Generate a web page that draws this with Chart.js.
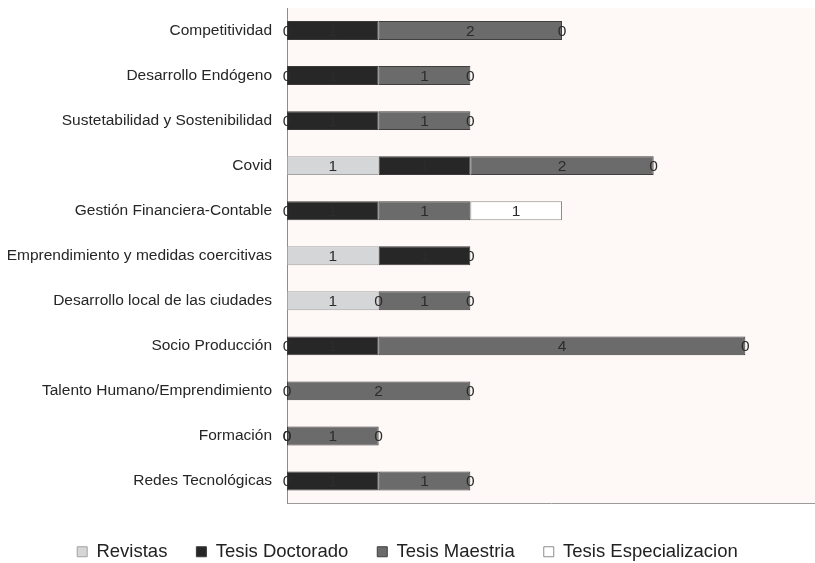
<!DOCTYPE html>
<html>
<head>
<meta charset="utf-8">
<script src="https://cdn.jsdelivr.net/npm/chart.js@4.4.0/dist/chart.umd.min.js"></script>
<style>
  html, body { margin: 0; padding: 0; background: #ffffff; }
  #wrap { width: 815px; height: 563px; }
</style>
</head>
<body>
<div id="wrap"><canvas id="lineasChart"></canvas></div>
<script>
const categorias = [
  "Competitividad",
  "Desarrollo Endógeno",
  "Sustetabilidad y Sostenibilidad",
  "Covid",
  "Gestión Financiera-Contable",
  "Emprendimiento y medidas coercitivas",
  "Desarrollo local de las ciudades",
  "Socio Producción",
  "Talento Humano/Emprendimiento",
  "Formación",
  "Redes Tecnológicas",
];
const revistas = [0, 0, 0, 1, 0, 1, 1, 0, null, 0, 0];
const tesisDoctorado = [1, 1, 1, 1, 1, 1, 0, 1, 0, 0, 1];
const tesisMaestria = [2, 1, 1, 2, 1, 0, 1, 4, 2, 1, 1];
const tesisEspecializacion = [0, 0, 0, 0, 1, null, 0, 0, 0, 0, 0];
const ticksX = [0, 1, 2, 3, 4, 5];

const fuente = "'Liberation Sans', Arial, sans-serif";

// fondo del area de trazado
const fondoPlot = {
  id: "fondoPlot",
  beforeDraw: (chart) => {
    const { ctx, chartArea } = chart;
    ctx.save();
    ctx.fillStyle = "#fef9f6";
    ctx.fillRect(chartArea.left, chartArea.top, chartArea.right - chartArea.left, chartArea.bottom - chartArea.top);
    ctx.restore();
  },
};

// etiquetas de valor en el centro de cada segmento
const etiquetas = {
  id: "etiquetas",
  afterDatasetsDraw: (chart) => {
    const ctx = chart.ctx;
    ctx.save();
    ctx.font = "15.5px " + fuente;
    ctx.fillStyle = "#2c2c2c";
    ctx.textAlign = "center";
    ctx.textBaseline = "middle";
    chart.data.datasets.forEach((ds, i) => {
      const meta = chart.getDatasetMeta(i);
      meta.data.forEach((bar, j) => {
        const v = ds.data[j];
        if (v === null || v === undefined) return;
        ctx.fillText(String(v), (bar.x + bar.base) / 2, bar.y + 1);
      });
    });
    ctx.restore();
  },
};

const serie = (label, data, fill, border) => ({
  label,
  data,
  backgroundColor: fill,
  borderColor: border,
  borderWidth: 1,
  borderSkipped: false,
  categoryPercentage: 1,
  barPercentage: 0.42,
});

new Chart(document.getElementById("lineasChart"), {
  type: "bar",
  data: {
    labels: categorias,
    datasets: [
      serie("Revistas", revistas, "#d5d6d8", "#a3a3a3"),
      serie("Tesis Doctorado", tesisDoctorado, "#282728", "#3a3a3a"),
      serie("Tesis Maestria", tesisMaestria, "#6b6b6b", "#3f3f3f"),
      serie("Tesis Especializacion", tesisEspecializacion, "#ffffff", "#8c8c8c"),
    ],
  },
  options: {
    indexAxis: "y",
    responsive: true,
    maintainAspectRatio: false,
    animation: false,
    layout: { padding: { top: 8, right: 0, left: 0, bottom: -8 } },
    plugins: {
      legend: {
        position: "bottom",
        labels: {
          boxWidth: 10,
          boxHeight: 10,
          padding: 29,
          color: "#222222",
          font: { size: 18.5, family: fuente },
        },
      },
      tooltip: { enabled: false },
    },
    scales: {
      x: {
        stacked: true,
        min: 0,
        max: 5.76,
        afterBuildTicks: (scale) => {
          scale.ticks = ticksX.map((v) => ({ value: v }));
        },
        afterFit: (scale) => {
          scale.height = 10;
          scale.paddingLeft = 0;
          scale.paddingRight = 0;
        },
        grid: { display: false, drawTicks: false },
        border: { display: true, color: "#9b9b9b", width: 1 },
        ticks: {
          padding: 11,
          color: "#f4efeb",
          font: { size: 15, family: fuente },
        },
      },
      y: {
        stacked: true,
        afterFit: (scale) => {
          scale.width = 287;
          scale.paddingTop = 0;
          scale.paddingBottom = 0;
        },
        grid: { display: false, drawTicks: false },
        border: { display: true, color: "#8d8d8d", width: 1 },
        ticks: {
          padding: 15,
          color: "#262626",
          font: { size: 15.5, family: fuente },
        },
      },
    },
  },
  plugins: [fondoPlot, etiquetas],
});
</script>
</body>
</html>
